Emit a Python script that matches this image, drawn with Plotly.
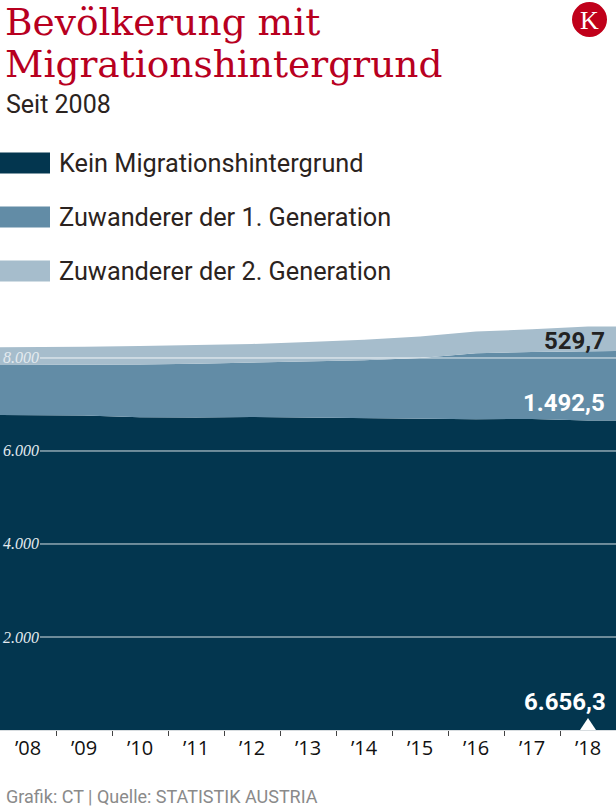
import plotly.graph_objects as go

# ---------------- data (in 1.000 persons) ----------------
years = [2008, 2009, 2010, 2011, 2012, 2013, 2014, 2015, 2016, 2017, 2018]
year_labels = ["’08", "’09", "’10", "’11", "’12", "’13", "’14", "’15", "’16", "’17", "’18"]
kein_migration = [6774, 6765, 6728, 6720, 6730, 6720, 6700, 6690, 6685, 6690, 6656.3]
gen1 = [1075, 1090, 1134, 1155, 1165, 1200, 1250, 1310, 1415, 1440, 1492.5]
gen2 = [382, 385, 396, 398, 406, 424, 440, 462, 470, 487, 529.7]
series_names = ["Kein Migrationshintergrund", "Zuwanderer der 1. Generation", "Zuwanderer der 2. Generation"]
y_ticks = [2000, 4000, 6000, 8000]
y_tick_labels = ["2.000", "4.000", "6.000", "8.000"]

# ---------------- styling ----------------
W, H = 616, 807
MT, MB = 312, 77
PLOT_H = H - MT - MB
Y_MAX = 8989
colors = ["#03364f", "#628ca6", "#a6bdcc"]
RED = "#b8001f"
TXT = "#2b2320"


def py(px):
    """pixel (from top) -> paper y"""
    return (H - MB - px) / PLOT_H


def pxx(px):
    return px / W


idx = list(range(len(years)))
xs = [idx[0] - 0.5] + idx + [idx[-1] + 0.5]


def ext(v):
    return [v[0]] + list(v) + [v[-1]]


fig = go.Figure()
for name, vals, col in zip(series_names, [kein_migration, gen1, gen2], colors):
    fig.add_trace(go.Scatter(
        x=xs, y=ext(vals), name=name, mode="lines", stackgroup="one",
        line=dict(width=0, color=col), fillcolor=col, showlegend=False,
    ))

shapes = []
annotations = []

# gridlines over the areas + italic serif labels
for v, lab in zip(y_ticks, y_tick_labels):
    shapes.append(dict(type="line", xref="paper", yref="y", x0=pxx(40), x1=1, y0=v, y1=v,
                       line=dict(color="rgba(255,255,255,0.85)", width=1), layer="above"))
    annotations.append(dict(text=lab, xref="paper", yref="y", x=pxx(1), y=v, xanchor="left",
                            yanchor="middle", showarrow=False,
                            font=dict(family="Liberation Serif", size=16, color="#e4ebf0", style="italic")))

# value labels at the end
last = len(years) - 1
tot_mid = kein_migration[last] + gen1[last]
tot_all = tot_mid + gen2[last]
fmt = lambda v: f"{v:,.1f}".replace(",", "X").replace(".", ",").replace("X", ".")
annotations.append(dict(text=f"<b>{fmt(gen2[last])}</b>", xref="paper", yref="y", x=pxx(607), y=tot_all,
                        yshift=-15, xanchor="right", yanchor="middle", showarrow=False,
                        font=dict(family="Roboto", size=24, color="#222222")))
annotations.append(dict(text=f"<b>{fmt(gen1[last])}</b>", xref="paper", yref="y", x=pxx(607), y=tot_mid,
                        yshift=-52, xanchor="right", yanchor="middle", showarrow=False,
                        font=dict(family="Roboto", size=24, color="white")))
annotations.append(dict(text=f"<b>{fmt(kein_migration[last])}</b>", xref="paper", yref="y", x=pxx(608), y=0,
                        yshift=28, xanchor="right", yanchor="middle", showarrow=False,
                        font=dict(family="Roboto", size=24, color="white")))
# small pointer triangle
shapes.append(dict(type="path", xref="x", yref="y", xsizemode="pixel", ysizemode="pixel",
                   xanchor=idx[last], yanchor=0, path="M-8,0 L8,0 L0,12 Z",
                   fillcolor="white", line=dict(width=0), layer="above"))

# title, subtitle
annotations.append(dict(text="Bevölkerung mit", xref="paper", yref="paper", x=pxx(3), y=py(22),
                        xanchor="left", yanchor="middle", showarrow=False,
                        font=dict(family="DejaVu Serif", size=37.5, color=RED)))
annotations.append(dict(text="Migrationshintergrund", xref="paper", yref="paper", x=pxx(3), y=py(64),
                        xanchor="left", yanchor="middle", showarrow=False,
                        font=dict(family="DejaVu Serif", size=37.5, color=RED)))
annotations.append(dict(text="Seit 2008", xref="paper", yref="paper", x=pxx(4), y=py(105),
                        xanchor="left", yanchor="middle", showarrow=False,
                        font=dict(family="Roboto", size=25, color=TXT)))

# logo
shapes.append(dict(type="circle", xref="paper", yref="paper", x0=pxx(572), x1=pxx(607),
                   y0=py(37), y1=py(2), fillcolor="#c0001a", line=dict(width=0)))
annotations.append(dict(text="K", xref="paper", yref="paper", x=pxx(589.5), y=py(20.5),
                        xanchor="center", yanchor="middle", showarrow=False,
                        font=dict(family="Liberation Serif", size=26, color="white")))

# legend
for i, (name, col) in enumerate(zip(series_names, colors)):
    cy = 163 + 54 * i
    shapes.append(dict(type="rect", xref="paper", yref="paper", x0=0, x1=pxx(50),
                       y0=py(cy + 10.5), y1=py(cy - 10.5), fillcolor=col, line=dict(width=0)))
    annotations.append(dict(text=name, xref="paper", yref="paper", x=pxx(57), y=py(cy),
                            xanchor="left", yanchor="middle", showarrow=False,
                            font=dict(family="Roboto", size=25.3, color=TXT)))

# footer
annotations.append(dict(text="Grafik: CT | Quelle: STATISTIK AUSTRIA", xref="paper", yref="paper",
                        x=pxx(4), y=py(796), xanchor="left", yanchor="middle", showarrow=False,
                        font=dict(family="Roboto", size=18, color="#8a8a8a")))

fig.update_layout(
    width=W, height=H,
    margin=dict(l=0, r=0, t=MT, b=MB, pad=0),
    paper_bgcolor="white", plot_bgcolor="white",
    shapes=shapes, annotations=annotations,
    xaxis=dict(range=[xs[0], xs[-1]], tickmode="array", tickvals=idx, ticktext=year_labels,
               ticks="", showgrid=False, zeroline=False, showline=True, linecolor="#d8dde0",
               linewidth=1, fixedrange=True,
               tickfont=dict(family="Open Sans", size=20, color="#111111"),
               minor=dict(tickmode="array", tickvals=[i + 0.5 for i in idx[:-1]], ticks="outside",
                          ticklen=5, tickcolor="#444444", tickwidth=1, showgrid=False)),
    yaxis=dict(range=[0, Y_MAX], showticklabels=False, showgrid=False, zeroline=False,
               ticks="", fixedrange=True),
    showlegend=False,
)

fig.write_html("out.html", config={"displayModeBar": False},
               post_script="document.body.style.margin='0';document.body.style.overflow='hidden';")
